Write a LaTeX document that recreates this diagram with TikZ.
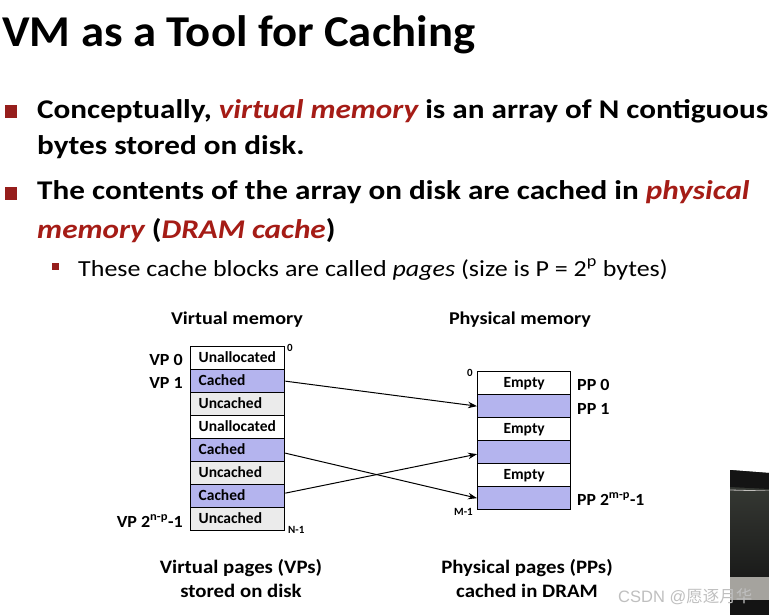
\documentclass[tikz,border=0pt]{standalone}
\usepackage{graphicx}
\usepackage{fontspec}
\setmainfont{Carlito}
\newfontfamily\cjkfont{Noto Sans CJK SC}
\newfontfamily\wmfont{Liberation Sans}
\usetikzlibrary{arrows.meta}
\definecolor{slidered}{RGB}{165,28,22}
\definecolor{bulletred}{RGB}{150,30,28}
\definecolor{lav}{RGB}{180,180,238}
\definecolor{ungray}{RGB}{235,235,235}
\definecolor{vidA}{RGB}{20,20,20}
\definecolor{vidB}{RGB}{52,55,50}
\definecolor{vidC}{RGB}{165,163,158}
\newcommand{\wideB}[1]{\scalebox{1.155}[1]{#1}}
\begin{document}
\begin{tikzpicture}[x=1pt,y=-1pt,
  bul/.style={fill=bulletred,draw=none},
  btext/.style={anchor=base west,inner sep=0pt,font=\bfseries\fontsize{27}{32}\selectfont},
  vrow/.style={draw=black,line width=1.3pt,minimum width=94pt,minimum height=23pt,
    inner ysep=0pt,inner xsep=8pt,text width=78pt,align=left,anchor=north west,
    font=\bfseries\fontsize{15.5}{17}\selectfont,text height=11pt,text depth=3pt},
  prow/.style={draw=black,line width=1.3pt,minimum width=93pt,minimum height=23pt,
    inner sep=0pt,anchor=north west,font=\bfseries\fontsize{15.5}{17}\selectfont,
    text height=11pt,text depth=3pt},
  lbl/.style={inner sep=0pt,font=\bfseries\fontsize{17}{20}\selectfont},
  smalllbl/.style={inner sep=0pt,font=\bfseries\fontsize{11}{13}\selectfont},
  headlbl/.style={inner sep=0pt,font=\bfseries\fontsize{18}{21}\selectfont},
  captext/.style={inner sep=0pt,align=center,font=\bfseries\fontsize{19}{24}\selectfont},
  arr/.style={line width=1pt,-{Stealth[length=9pt,width=6.5pt]}}
]
\useasboundingbox (0,0) rectangle (769,615);
\fill[white] (0,0) rectangle (769,615);

% title
\node[anchor=base west,inner sep=0pt,font=\bfseries\fontsize{44}{50}\selectfont] (title) at (2,47) {\scalebox{1.06}[1]{VM as a Tool for Caching}};

% bullets
\fill[bul] (5,105) rectangle (17,118);
\node[btext] (l1) at (37,119) {\wideB{Conceptually, \textit{\textcolor{slidered}{virtual memory}} is an array of N contiguous}};
\node[btext] (l2) at (37,155) {\wideB{bytes stored on disk.}};
\fill[bul] (5,187) rectangle (17,200);
\node[btext] (l3) at (37,200) {\wideB{The contents of the array on disk are cached in \textit{\textcolor{slidered}{physical}}}};
\node[btext] (l4) at (37,239) {\wideB{\textit{\textcolor{slidered}{memory}} (\textit{\textcolor{slidered}{DRAM cache}})}};
\fill[bul] (52,263) rectangle (59,270);
\node[anchor=base west,inner sep=0pt,font=\fontsize{23}{27}\selectfont] (l5) at (78,276) {\scalebox{1.13}[1]{These cache blocks are called \textit{pages} (size is P = 2\textsuperscript{p} bytes)}};

% virtual memory
\node[headlbl] (vmh) at (237,320) {\scalebox{1.12}[1]{Virtual memory}};
\node[vrow,fill=white]  (v1) at (190,346) {Unallocated};
\node[vrow,fill=lav]    (v2) at (190,369) {Cached};
\node[vrow,fill=ungray] (v3) at (190,392) {Uncached};
\node[vrow,fill=white]  (v4) at (190,415) {Unallocated};
\node[vrow,fill=lav]    (v5) at (190,438) {Cached};
\node[vrow,fill=ungray] (v6) at (190,461) {Uncached};
\node[vrow,fill=lav]    (v7) at (190,484) {Cached};
\node[vrow,fill=ungray] (v8) at (190,507) {Uncached};
\node[lbl,anchor=east] (vp0) at (183,360) {\scalebox{1.06}[1]{VP 0}};
\node[lbl,anchor=east] (vp1) at (183,383) {\scalebox{1.06}[1]{VP 1}};
\node[lbl,anchor=east] (vpn) at (183,521) {\scalebox{1.06}[1]{VP 2\textsuperscript{n-p}-1}};
\node[smalllbl,anchor=west] (v0) at (287,348) {0};
\node[smalllbl,anchor=west] (vn) at (288,530) {N-1};

% physical memory
\node[headlbl] (pmh) at (520,320) {\scalebox{1.12}[1]{Physical memory}};
\node[prow,fill=white] (p1) at (477,371) {Empty};
\node[prow,fill=lav]   (p2) at (477,394) {};
\node[prow,fill=white] (p3) at (477,417) {Empty};
\node[prow,fill=lav]   (p4) at (477,440) {};
\node[prow,fill=white] (p5) at (477,463) {Empty};
\node[prow,fill=lav]   (p6) at (477,486) {};
\node[lbl,anchor=west] (pp0) at (577,385) {\scalebox{1.06}[1]{PP 0}};
\node[lbl,anchor=west] (pp1) at (577,409) {\scalebox{1.06}[1]{PP 1}};
\node[lbl,anchor=west] (ppn) at (577,499) {\scalebox{1.04}[1]{PP 2\textsuperscript{m-p}-1}};
\node[smalllbl,anchor=east] (p0) at (473,373) {0};
\node[smalllbl,anchor=east] (pm) at (473,512) {M-1};

% mappings
\draw[arr] (v2.east) -- (p2.west);
\draw[arr] ([yshift=-3pt]v5.east) -- (p6.west);
\draw[arr] ([yshift=3pt]v7.east) -- ([yshift=-2pt]p4.west);

% captions
\node[captext] (c1) at (241,581) {\scalebox{1.095}[1]{\begin{tabular}{@{}c@{}}Virtual pages (VPs)\\stored on disk\end{tabular}}};
\node[captext] (c2) at (527,581) {\scalebox{1.095}[1]{\begin{tabular}{@{}c@{}}Physical pages (PPs)\\cached in DRAM\end{tabular}}};

% video frame edge
\fill[vidB] (730,470) -- (769,473) -- (769,615) -- (730,615) -- cycle;
\fill[vidA] (730,470) -- (769,473) -- (769,489) -- (730,487) -- cycle;
\draw[vidC!70,line width=0.8pt] (730,490) -- (769,491);
\shade[top color=vidB,bottom color=vidA!80!vidB] (730,491) rectangle (769,576);
\fill[vidC] (730,577) rectangle (769,600);
\fill[vidA] (730,600) rectangle (769,615);

% watermark
\node[anchor=west,inner sep=0pt,text=gray!50,font=\fontsize{16.5}{18}\selectfont] (wm) at (618,597) {\wmfont CSDN @\cjkfont 愿逐月华};
\end{tikzpicture}
\end{document}
